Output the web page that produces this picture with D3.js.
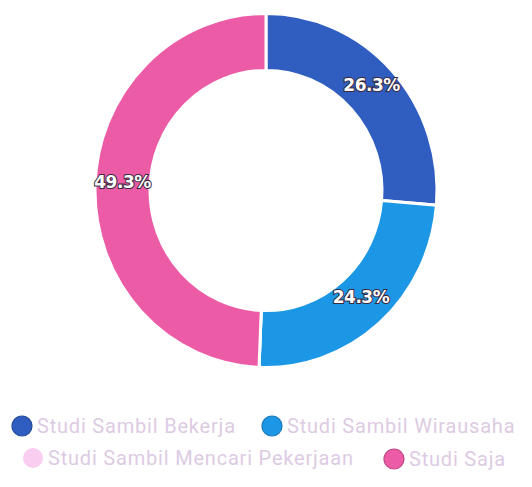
<!DOCTYPE html>
<html>
<head>
<meta charset="utf-8">
<script src="https://cdn.jsdelivr.net/npm/d3@7"></script>
<style>
  body { margin: 0; background: #fff; }
  svg { display: block; }
</style>
</head>
<body>
<svg id="chart"></svg>
<script>
// data
const categories = ["Studi Sambil Bekerja", "Studi Sambil Wirausaha", "Studi Sambil Mencari Pekerjaan", "Studi Saja"];
const values = [26.3, 24.3, 0, 49.3];
const colors = ["#2f5ec0", "#1c97e6", "#f9cdef", "#ec5ba6"];

const width = 532, height = 487;
const svg = d3.select("#chart").attr("width", width).attr("height", height);

const outerR = 171, innerR = 116;
const pie = d3.pie().sort(null).value(d => d);
const arc = d3.arc().innerRadius(innerR).outerRadius(outerR);
const labelArc = d3.arc().innerRadius((innerR + outerR) / 2).outerRadius((innerR + outerR) / 2);

// donut, slightly stretched vertically like the photo
const g = svg.append("g")
    .attr("transform", "translate(266,190.5) scale(1,1.035)");

const arcs = pie(values);

g.selectAll("path")
  .data(arcs)
  .enter()
  .append("path")
    .attr("d", arc)
    .attr("fill", (d, i) => colors[i])
    .attr("stroke", "#fff")
    .attr("stroke-width", 3);

// percentage labels
g.selectAll("text.pct")
  .data(arcs.filter(d => d.data > 0))
  .enter()
  .append("text")
    .attr("class", "pct")
    .attr("transform", d => `translate(${labelArc.centroid(d)})`)
    .attr("text-anchor", "middle")
    .attr("dy", "0.05em")
    .style("font-family", "DejaVu Sans")
    .style("font-weight", "bold")
    .style("font-size", "17px")
    .style("letter-spacing", "-0.5px")
    .attr("fill", "#fff")
    .attr("stroke", "#3a2a40")
    .attr("stroke-width", 2)
    .attr("paint-order", "stroke")
    .text(d => d.data.toFixed(1) + "%");

// legend, two rows
const legendPos = [
  { x: 22, y: 426 },
  { x: 272, y: 426 },
  { x: 33, y: 458 },
  { x: 394, y: 459 }
];

const legend = svg.selectAll("g.legend")
  .data(categories)
  .enter()
  .append("g")
    .attr("class", "legend")
    .attr("transform", (d, i) => `translate(${legendPos[i].x},${legendPos[i].y})`);

legend.append("circle")
    .attr("r", 10)
    .attr("fill", (d, i) => colors[i])
    .attr("stroke", (d, i) => i === 2 ? "none" : d3.color(colors[i]).darker(0.6))
    .attr("stroke-width", 1.2);

legend.append("text")
    .attr("x", 15)
    .attr("dy", "0.35em")
    .style("font-family", "Roboto")
    .style("font-size", "20px")
    .style("letter-spacing", "0.8px")
    .attr("fill", "#ddcbe3")
    .text(d => d);
</script>
</body>
</html>
